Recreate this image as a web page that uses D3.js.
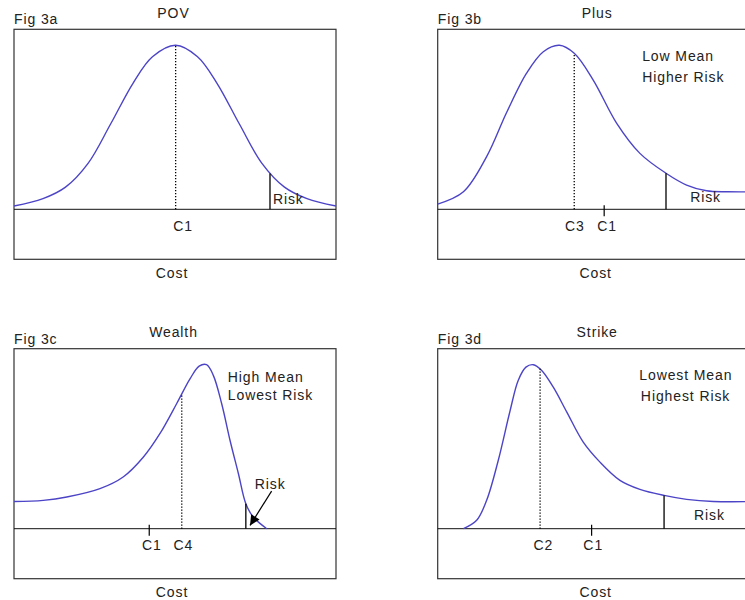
<!DOCTYPE html>
<html>
<head>
<meta charset="utf-8">
<script src="https://cdn.jsdelivr.net/npm/d3@7"></script>
<style>
  body { margin: 0; background: #fff; }
  text { font-family: "Liberation Sans", Arial, sans-serif; font-size: 14px; fill: #222; letter-spacing: 0.9px; }
</style>
</head>
<body>
<svg id="chart" width="745" height="600"></svg>
<script>
// x: cost, 0-100 across the frame; y: relative frequency, 0 on the baseline, 100 at the peak
const povCurve = [[0,2],[9,6.5],[16,13.5],[23,28],[30,52],[37,77],[43,93],[50.2,100],[57,93],[63,77],[70,52],[77,28],[84,13.5],[91,6.5],[100,2]];
const plusCurve = [[0,3.2],[8,10.7],[15.2,32.1],[21.4,59],[27.6,83],[32.8,96.1],[37.8,100],[42.4,95.1],[48.3,78.8],[55.6,52.4],[62.8,34.1],[70.9,22],[77.3,14.8],[83.5,11.3],[90,10.7],[100,10.7]];
const wealthCurve = [[0,16.6],[9.1,17.3],[16.4,19.3],[26.7,24.4],[33.9,31.5],[40.2,43.7],[45.3,57.9],[50.5,76.2],[54.7,91.5],[57.5,99.1],[59.8,100],[61.9,93.5],[64.5,76.2],[67.1,53.8],[69.7,33.5],[72,15.2],[74.3,7.1],[78.5,0]];
const strikeCurve = [[8,0],[12.1,5.1],[15.2,17.3],[18.8,41.6],[22.5,72.1],[25,90.4],[27.4,98.5],[29.7,100],[32.3,96.5],[35.9,86.3],[40.1,71.1],[45.2,52.8],[50.4,40.6],[56.6,29.5],[62.8,24],[70.3,20.3],[77.3,17.9],[85.6,16.6],[100,16.6]];

const figLabels = ["Fig 3a", "Fig 3b", "Fig 3c", "Fig 3d"];
const titles = ["POV", "Plus", "Wealth", "Strike"];
const curves = [povCurve, plusCurve, wealthCurve, strikeCurve];
// dotted mean line and its label
const meanMarks = [
  { name: "C1", x: 50.2, labelX: 52.5 },
  { name: "C3", x: 42.4, labelX: 42.6 },
  { name: "C4", x: 52.1, labelX: 52.6 },
  { name: "C2", x: 31.8, labelX: 32.8 }
];
// C1 tick for comparison
const refMarks = [
  null,
  { name: "C1", x: 51.7, labelX: 52.6 },
  { name: "C1", x: 42.0, labelX: 42.8 },
  { name: "C1", x: 47.8, labelX: 48.3 }
];
const riskCut = [79.5, 70.9, 72.0, 70.3];
const riskText = [[80.4, 3.2], [78.4, 4.5], [74.8, 24.4], [79.6, 5.5]];
const riskArrow = [null, null, [[80.0, 22.9], [73.3, 2.0]], null];
const notes = [
  [],
  [["Low Mean", 63.5, 90.4], ["Higher Risk", 63.5, 77.6]],
  [["High Mean", 66.4, 89.4], ["Lowest Risk", 66.4, 78.2]],
  [["Lowest Mean", 62.6, 90.4], ["Highest Risk", 63.1, 77.6]]
];

const boxW = 322, boxH = 230, baseOff = 180, peakH = 164;
const origins = [[14, 29.3], [437.7, 29.3], [14, 348.7], [437.7, 348.7]];

const svg = d3.select("#chart");

svg.append("defs").append("marker")
    .attr("id", "head")
    .attr("markerUnits", "userSpaceOnUse")
    .attr("viewBox", "0 0 10 10")
    .attr("refX", 10).attr("refY", 5)
    .attr("markerWidth", 12).attr("markerHeight", 10)
    .attr("orient", "auto")
  .append("path")
    .attr("d", "M0,0L10,5L0,10Z")
    .attr("fill", "#000");

const x = d3.scaleLinear().domain([0, 100]).range([0, boxW]);
const y = d3.scaleLinear().domain([0, 100]).range([baseOff, baseOff - peakH]);

const line = d3.line()
  .x(d => x(d[0]))
  .y(d => y(d[1]))
  .curve(d3.curveCatmullRom.alpha(0.5));

// height of the drawn curve at a given cost (binary search along the path)
function curveYAt(pathNode, px) {
  let lo = 0, hi = pathNode.getTotalLength();
  for (let i = 0; i < 30; i++) {
    const mid = (lo + hi) / 2;
    if (pathNode.getPointAtLength(mid).x < px) lo = mid; else hi = mid;
  }
  return pathNode.getPointAtLength(lo).y;
}

origins.forEach((o, i) => {
  const g = svg.append("g").attr("transform", `translate(${o[0]},${o[1]})`);

  g.append("text").attr("x", 0).attr("y", -5).text(figLabels[i]);
  g.append("text").attr("x", boxW / 2 - 1.5).attr("y", -11.5)
    .attr("text-anchor", "middle").text(titles[i]);
  g.append("text").attr("x", boxW / 2 - 3).attr("y", boxH + 18.5)
    .attr("text-anchor", "middle").text("Cost");

  g.append("rect")
    .attr("width", boxW).attr("height", boxH)
    .attr("fill", "none").attr("stroke", "#333").attr("stroke-width", 1.2);

  g.append("line")
    .attr("x1", 0).attr("x2", boxW)
    .attr("y1", y(0)).attr("y2", y(0))
    .attr("stroke", "#111").attr("stroke-width", 1);

  const curvePath = g.append("path")
    .datum(curves[i])
    .attr("d", line)
    .attr("fill", "none")
    .attr("stroke", "#4c44c6")
    .attr("stroke-width", 1.4);
  const node = curvePath.node();

  // mean: dotted line up to the curve
  const m = meanMarks[i];
  g.append("line")
    .attr("x1", x(m.x)).attr("x2", x(m.x))
    .attr("y1", y(0)).attr("y2", curveYAt(node, x(m.x)))
    .attr("stroke", "#000").attr("stroke-width", 1.3)
    .attr("stroke-dasharray", "1.2,1.8");
  g.append("text").attr("x", x(m.labelX)).attr("y", y(0) + 21.5)
    .attr("text-anchor", "middle").text(m.name);

  const r = refMarks[i];
  if (r) {
    g.append("line")
      .attr("x1", x(r.x)).attr("x2", x(r.x))
      .attr("y1", y(0) - 4).attr("y2", y(0) + 7)
      .attr("stroke", "#000").attr("stroke-width", 1.2);
    g.append("text").attr("x", x(r.labelX)).attr("y", y(0) + 21.5)
      .attr("text-anchor", "middle").text(r.name);
  }

  // risk cut-off
  g.append("line")
    .attr("x1", x(riskCut[i])).attr("x2", x(riskCut[i]))
    .attr("y1", y(0)).attr("y2", curveYAt(node, x(riskCut[i])))
    .attr("stroke", "#000").attr("stroke-width", 1.3);
  g.append("text").attr("x", x(riskText[i][0])).attr("y", y(riskText[i][1])).text("Risk");

  const a = riskArrow[i];
  if (a) {
    g.append("line")
      .attr("x1", x(a[0][0])).attr("y1", y(a[0][1]))
      .attr("x2", x(a[1][0])).attr("y2", y(a[1][1]))
      .attr("stroke", "#000").attr("stroke-width", 1.2)
      .attr("marker-end", "url(#head)");
  }

  g.selectAll("text.note")
    .data(notes[i])
    .join("text")
      .attr("class", "note")
      .attr("x", d => x(d[1]))
      .attr("y", d => y(d[2]))
      .text(d => d[0]);
});
</script>
</body>
</html>
